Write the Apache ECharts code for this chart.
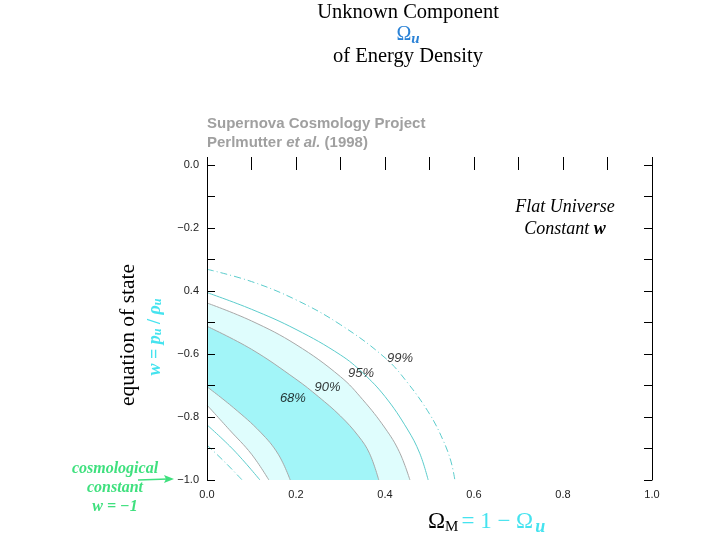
<!DOCTYPE html>
<html>
<head>
<meta charset="utf-8">
<script src="https://cdn.jsdelivr.net/npm/echarts@6/dist/echarts.min.js"></script>
<style>
html,body{margin:0;padding:0;background:#fff;}
#chart{width:720px;height:540px;}
</style>
</head>
<body>
<div id="chart"></div>
<script>
// ---- data (Omega_M, w) ----
const xTickLabels = ['0.0', '0.2', '0.4', '0.6', '0.8', '1.0'];
const xTickValues = [0, 0.2, 0.4, 0.6, 0.8, 1.0];
const yTickLabels = ['\u22121.0', '\u22120.8', '\u22120.6', '0.4', '\u22120.2', '0.0'];
const yTickValues = [-1.0, -0.8, -0.6, -0.4, -0.2, 0.0];

const c99Outer = [[0, -0.331], [0.1, -0.370], [0.2, -0.428], [0.3, -0.507], [0.4, -0.612], [0.45, -0.690], [0.5, -0.790], [0.53, -0.872], [0.548, -0.940], [0.557, -1.0]];
const c95Outer = [[0, -0.405], [0.1, -0.458], [0.2, -0.522], [0.3, -0.603], [0.35, -0.660], [0.4, -0.735], [0.45, -0.838], [0.478, -0.915], [0.497, -1.0]];
const c90Outer = [[0, -0.438], [0.1, -0.495], [0.2, -0.570], [0.3, -0.672], [0.35, -0.745], [0.4, -0.835], [0.432, -0.910], [0.456, -1.0]];
const c68Outer = [[0, -0.512], [0.1, -0.585], [0.2, -0.680], [0.25, -0.735], [0.3, -0.797], [0.34, -0.860], [0.365, -0.915], [0.386, -1.0]];
const c68Inner = [[0, -0.704], [0.06, -0.771], [0.12, -0.848], [0.16, -0.918], [0.187, -1.0]];
const c90Inner = [[0, -0.762], [0.05, -0.840], [0.1, -0.918], [0.139, -1.0]];
const c95Inner = [[0, -0.825], [0.06, -0.905], [0.119, -1.0]];
const c99Inner = [[0, -0.889], [0.04, -0.943], [0.079, -1.0]];

const contourLabels = [[0.193, -0.740, '68%'], [0.271, -0.705, '90%'], [0.346, -0.660, '95%'], [0.434, -0.613, '99%']];

// ---- styles ----
const DARK = '#a2f5f8';
const LIGHT = '#dffdfd';
const GRAY = '#a8a8a8';
const TEAL = '#5ccccc';
const CYAN = '#45e3ef';
const BLUE = '#2a82d6';
const GREEN = '#3fe07e';

function tickFmt(values, labels) {
  return function (v) {
    for (let i = 0; i < values.length; i++) {
      if (Math.abs(values[i] - v) < 1e-6) return labels[i];
    }
    return '';
  };
}

function fillSeries(data, color, lineColor) {
  return {
    type: 'line', data: data, symbol: 'none', smooth: 0.4,
    lineStyle: { color: lineColor, width: 1 },
    areaStyle: { color: color, opacity: 1, origin: 'start' },
    silent: true, z: 2
  };
}
function lineSeries(data, color, type) {
  return {
    type: 'line', data: data, symbol: 'none', smooth: 0.4,
    lineStyle: { color: color, width: 1, type: type },
    silent: true, z: 3
  };
}

const serif = '"Liberation Serif", "Times New Roman", serif';
const sans = '"Liberation Sans", Arial, sans-serif';

const mctx = document.createElement('canvas').getContext('2d');
function tw(text, font) { mctx.font = font; return mctx.measureText(text).width; }

function txt(x, y, text, font, fill, align, rot) {
  return {
    type: 'text', x: x, y: y, rotation: rot || 0,
    style: { text: text, font: font, fill: fill, textAlign: align || 'center', textVerticalAlign: 'middle' }
  };
}

// top Omega_u
const fOm = '20px ' + serif, fU = 'italic bold 15px ' + serif;
const topW = tw('\u03A9', fOm) + tw('u', fU);
const topX = 408 - topW / 2;

// bottom Omega_M = 1 - Omega_u
const fB = '23px ' + serif, fM = '15px ' + serif, fBu = 'italic bold 18px ' + serif;
const bx0 = 428;
const bx1 = bx0 + tw('\u03A9', fB);
const bx2 = bx1 + tw('M', fM) + 3;
const bx3 = bx2 + tw('= 1 \u2212 \u03A9', fB) + 2;

const chart = echarts.init(document.getElementById('chart'), null, { renderer: 'canvas' });

const option = {
  animation: false,
  backgroundColor: '#fff',
  grid: { left: 207, right: 68, top: 165, bottom: 60, containLabel: false },
  xAxis: [{
    type: 'value', min: 0, max: 1, interval: 0.1, position: 'bottom', z: 10,
    axisLine: { show: false },
    axisTick: { show: true, inside: true, length: 8, lineStyle: { color: '#000', width: 1 } },
    axisLabel: { formatter: tickFmt(xTickValues, xTickLabels), margin: 9, color: '#222', fontSize: 11, fontFamily: sans },
    splitLine: { show: false }
  }, {
    type: 'value', min: 0, max: 1, interval: 0.1, position: 'top', z: 10,
    axisLine: { show: false },
    axisTick: { show: true, inside: true, length: 5, lineStyle: { color: '#000', width: 1 } },
    axisLabel: { show: false },
    splitLine: { show: false }
  }],
  yAxis: [{
    type: 'value', min: -1, max: 0, interval: 0.1, position: 'left', z: 10,
    axisLine: { show: true, onZero: false, lineStyle: { color: '#000', width: 1 } },
    axisTick: { show: true, inside: true, length: 8, lineStyle: { color: '#000', width: 1 } },
    axisLabel: { formatter: tickFmt(yTickValues, yTickLabels), margin: 8, color: '#222', fontSize: 11, fontFamily: sans },
    splitLine: { show: false }
  }, {
    type: 'value', min: -1, max: 0, interval: 0.1, position: 'right', z: 10,
    axisLine: { show: true, onZero: false, lineStyle: { color: '#000', width: 1 } },
    axisTick: { show: true, inside: true, length: 8, lineStyle: { color: '#000', width: 1 } },
    axisLabel: { show: false },
    splitLine: { show: false }
  }],
  series: [
    fillSeries(c90Outer, LIGHT, GRAY),
    fillSeries(c68Outer, DARK, GRAY),
    fillSeries(c68Inner, LIGHT, GRAY),
    fillSeries(c90Inner, '#ffffff', GRAY),
    lineSeries(c95Outer, TEAL, 'solid'),
    lineSeries(c95Inner, TEAL, 'solid'),
    lineSeries(c99Outer, TEAL, [7, 3, 1, 3]),
    lineSeries(c99Inner, TEAL, [7, 3, 1, 3]),
    {
      type: 'scatter', symbolSize: 0, silent: true, z: 5,
      data: contourLabels.map(d => ({ value: [d[0], d[1]], name: d[2] })),
      label: {
        show: true, position: 'inside', formatter: p => p.name,
        fontFamily: sans, fontStyle: 'italic', fontSize: 13, color: '#000',
        textBorderWidth: 0, textBorderColor: 'transparent'
      }
    }
  ],
  graphic: [
    txt(408, 13, 'Unknown Component', '20.5px ' + serif, '#000'),
    txt(topX, 35, '\u03A9', fOm, BLUE, 'left'),
    txt(topX + tw('\u03A9', fOm), 39, 'u', fU, BLUE, 'left'),
    txt(408, 57, 'of Energy Density', '20.5px ' + serif, '#000'),
    txt(207, 124, 'Supernova Cosmology Project', 'bold 15px ' + sans, '#a0a0a0', 'left'),
    {
      type: 'text', x: 207, y: 143,
      style: {
        text: '{a|Perlmutter }{b|et al.}{a| (1998)}', textVerticalAlign: 'middle', textAlign: 'left',
        rich: {
          a: { font: 'bold 15px ' + sans, fill: '#a0a0a0', color: '#a0a0a0' },
          b: { font: 'italic bold 15px ' + sans, fill: '#a0a0a0', color: '#a0a0a0' }
        }
      }
    },
    txt(565, 207, 'Flat Universe', 'italic 18px ' + serif, '#000'),
    {
      type: 'text', x: 565, y: 229,
      style: {
        text: '{a|Constant }{b|w}', textAlign: 'center', textVerticalAlign: 'middle',
        rich: {
          a: { font: 'italic 18px ' + serif, fill: '#000', color: '#000' },
          b: { font: 'italic bold 18px ' + serif, fill: '#000', color: '#000' }
        }
      }
    },
    txt(128, 335, 'equation of state', '21.5px ' + serif, '#000', 'center', Math.PI / 2),
    {
      type: 'text', x: 155, y: 337, rotation: Math.PI / 2,
      style: {
        text: '{w|w}{e| = }{w|p}{s|u}{e| / }{w|\u03C1}{s|u}', textAlign: 'center', textVerticalAlign: 'middle',
        rich: {
          w: { font: 'italic bold 18px ' + serif, fill: CYAN, color: CYAN },
          e: { font: 'bold 18px ' + serif, fill: CYAN, color: CYAN },
          s: { font: 'italic bold 12px ' + serif, fill: CYAN, color: CYAN, verticalAlign: 'bottom' }
        }
      }
    },
    txt(115, 469, 'cosmological', 'italic bold 16px ' + serif, GREEN),
    txt(115, 488, 'constant', 'italic bold 16px ' + serif, GREEN),
    txt(115, 507, 'w = \u22121', 'italic bold 16px ' + serif, GREEN),
    {
      type: 'line', shape: { x1: 138, y1: 480, x2: 168, y2: 479 },
      style: { stroke: GREEN, lineWidth: 1.5 }
    },
    {
      type: 'polygon', shape: { points: [[174, 479], [164, 475], [166, 479], [164, 483]] },
      style: { fill: GREEN }
    },
    txt(bx0, 522, '\u03A9', fB, '#000', 'left'),
    txt(bx1, 527, 'M', fM, '#000', 'left'),
    txt(bx2, 522, '= 1 \u2212 \u03A9', fB, CYAN, 'left'),
    txt(bx3, 527, 'u', fBu, CYAN, 'left')
  ]
};

chart.setOption(option);
</script>
</body>
</html>
